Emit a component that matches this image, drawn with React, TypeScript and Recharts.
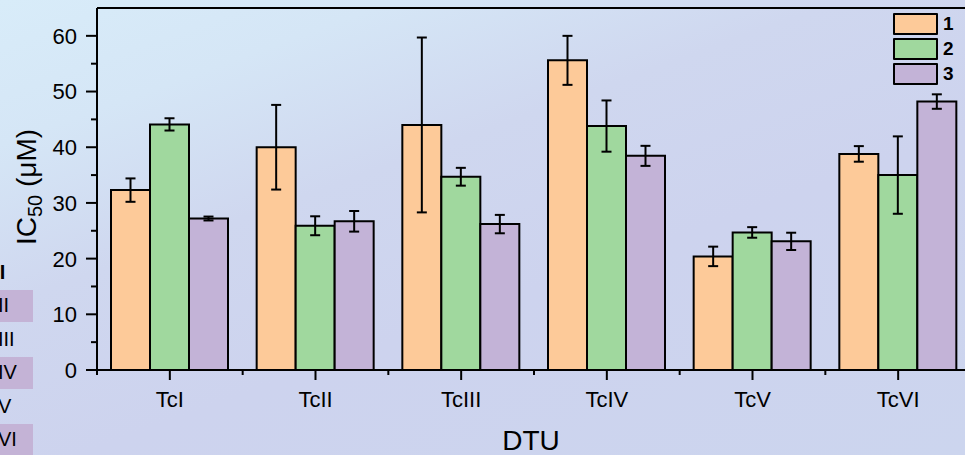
import {BarChart, Bar, XAxis, YAxis, ErrorBar, Legend, ReferenceLine} from 'recharts';

// DTU categories and IC50 means / errors per compound
const categories = ['TcI', 'TcII', 'TcIII', 'TcIV', 'TcV', 'TcVI'];
const series1 = [32.3, 40.0, 44.0, 55.6, 20.4, 38.8];
const err1 = [2.1, 7.6, 15.7, 4.4, 1.75, 1.4];
const series2 = [44.1, 25.9, 34.7, 43.8, 24.7, 35.0];
const err2 = [1.1, 1.7, 1.6, 4.6, 0.95, 6.95];
const series3 = [27.2, 26.7, 26.2, 38.45, 23.1, 48.2];
const err3 = [0.35, 1.85, 1.65, 1.8, 1.55, 1.3];
const yTicks = [0, 5, 10, 15, 20, 25, 30, 35, 40, 45, 50, 55, 60];
const seriesNames = ['1', '2', '3'];
const sideRows = ['TcI', 'TcII', 'TcIII', 'TcIV', 'TcV', 'TcVI'];

const COLORS = ['#FDCA99', '#A0D89E', '#C3B3D7'];

const CHART_W = 1000;
const CHART_H = 455;
const Y_AXIS_W = 97;
const X_AXIS_H = 85;
const MARGIN = {top: 8, right: 29, left: 0, bottom: 0};
const AXIS_X = Y_AXIS_W;
const AXIS_Y = CHART_H - X_AXIS_H;
const BAND = (CHART_W - Y_AXIS_W - MARGIN.right) / categories.length;

const data = categories.map((name, i) => ({
    name,
    s1: series1[i], e1: err1[i],
    s2: series2[i], e2: err2[i],
    s3: series3[i], e3: err3[i],
}));

interface TickProps {
    x?: number;
    y?: number;
    payload?: {value: string | number};
}

const XTick = ({x = 0, payload}: TickProps) => (
    <g>
        <line x1={x} x2={x} y1={AXIS_Y} y2={AXIS_Y + 10} stroke="#000" strokeWidth={2}/>
        <line x1={x - BAND / 2} x2={x - BAND / 2} y1={AXIS_Y} y2={AXIS_Y + 5} stroke="#000" strokeWidth={2}/>
        <text x={x} y={407} textAnchor="middle" fontSize={22} fill="#000">{payload?.value}</text>
    </g>
);

const YTick = ({y = 0, payload}: TickProps) => {
    const v = Number(payload?.value);
    const major = v % 10 === 0;
    return (
        <g>
            <line x1={AXIS_X - (major ? 11 : 6)} x2={AXIS_X} y1={y} y2={y} stroke="#000" strokeWidth={2}/>
            {major && (
                <text x={77} y={y} dy="0.36em" textAnchor="end" fontSize={22} fill="#000">{v}</text>
            )}
        </g>
    );
};

const YLabel = () => (
    <text x={36} y={187} transform="rotate(-90 36 187)" textAnchor="middle" fontSize={28} fill="#000">
        IC<tspan fontSize={20} dy={6}>50</tspan><tspan dy={-6}>{' (μM)'}</tspan>
    </text>
);

const XLabel = () => (
    <text x={531} y={450} textAnchor="middle" fontSize={28} fill="#000">DTU</text>
);

const LegendBox = () => (
    <div>
        {seriesNames.map((n, i) => (
            <div key={n} style={{display: 'flex', alignItems: 'center', height: 25}}>
                <div style={{
                    width: 41, height: 18, border: '2px solid #000',
                    background: COLORS[i], borderRadius: 1
                }}/>
                <span style={{marginLeft: 5, fontSize: 19, fontWeight: 700, color: '#000'}}>{n}</span>
            </div>
        ))}
    </div>
);

const App = () => {
    return (
        <div style={{
            position: 'absolute', left: 0, top: 0, width: 965, height: 455, overflow: 'hidden',
            fontFamily: '"Liberation Sans", Arial, sans-serif',
            background: 'linear-gradient(160deg, #d8ecf9 0%, #d5e6f6 18%, #cfd7ef 38%, #cdd3ee 60%, #ccd5ee 100%)'
        }}>
            {/* cut-off table from neighbouring panel */}
            {sideRows.map((r, i) => (
                <div key={r} style={{
                    position: 'absolute', left: 0, top: 257 + i * 33.4, width: 33, height: 32,
                    background: i % 2 === 1 ? '#c4b3d6' : 'transparent', overflow: 'hidden'
                }}>
                    <span style={{
                        position: 'absolute', left: -22, top: 4, fontSize: 20,
                        fontWeight: i === 0 ? 700 : 400, color: '#000', whiteSpace: 'nowrap'
                    }}>{r}</span>
                </div>
            ))}
            <div style={{position: 'absolute', left: 0, top: 0}}>
                <BarChart width={CHART_W} height={CHART_H} data={data} margin={MARGIN} barGap={0} barSize={39}>
                    <XAxis
                        dataKey="name"
                        height={X_AXIS_H}
                        interval={0}
                        axisLine={{stroke: '#000', strokeWidth: 2}}
                        tickLine={false}
                        tick={<XTick/>}
                        label={<XLabel/>}
                    />
                    <YAxis
                        width={Y_AXIS_W}
                        domain={[0, 65]}
                        ticks={yTicks}
                        interval={0}
                        axisLine={{stroke: '#000', strokeWidth: 2}}
                        tickLine={false}
                        tick={<YTick/>}
                        label={<YLabel/>}
                    />
                    <ReferenceLine y={65} stroke="#000" strokeWidth={2}/>
                    <Legend
                        layout="vertical"
                        align="center"
                        verticalAlign="middle"
                        content={<LegendBox/>}
                        wrapperStyle={{left: 893, top: 11, width: 70}}
                    />
                    <Bar dataKey="s1" name="1" fill={COLORS[0]} stroke="#000" strokeWidth={2} isAnimationActive={false}>
                        <ErrorBar dataKey="e1" width={5} stroke="#000" strokeWidth={2} isAnimationActive={false}/>
                    </Bar>
                    <Bar dataKey="s2" name="2" fill={COLORS[1]} stroke="#000" strokeWidth={2} isAnimationActive={false}>
                        <ErrorBar dataKey="e2" width={5} stroke="#000" strokeWidth={2} isAnimationActive={false}/>
                    </Bar>
                    <Bar dataKey="s3" name="3" fill={COLORS[2]} stroke="#000" strokeWidth={2} isAnimationActive={false}>
                        <ErrorBar dataKey="e3" width={5} stroke="#000" strokeWidth={2} isAnimationActive={false}/>
                    </Bar>
                </BarChart>
            </div>
        </div>
    );
};

export default App;
